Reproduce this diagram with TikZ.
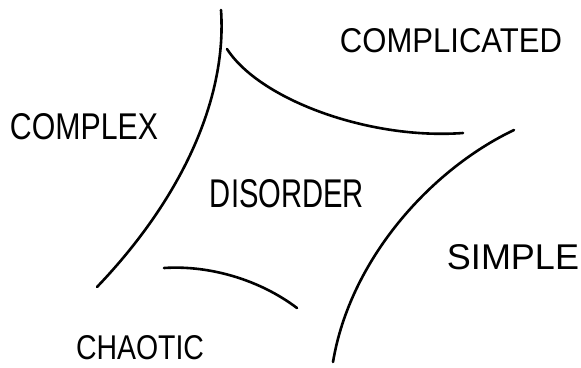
\documentclass[tikz,border=0pt]{standalone}
\usepackage{fontspec}
\setmainfont{Liberation Sans}
\begin{document}
\begin{tikzpicture}[x=1pt,y=-1pt,
  stroke/.style={line width=2.6pt,line cap=round,black},
  label/.style={inner sep=0pt,anchor=center}]
\useasboundingbox (0,0) rectangle (581,367);
% domain boundaries
\draw[stroke] (221,10) .. controls (227,95) and (185,195) .. (97,287);
\draw[stroke] (227,49) .. controls (260,100) and (370,140) .. (463,133);
\draw[stroke] (514,130) .. controls (430,170) and (350,260) .. (333,362);
\draw[stroke] (164,268) .. controls (210,265) and (260,280) .. (297,308);
% domain names
\node[label] (complicated) at (451,41) {\resizebox{222pt}{24pt}{COMPLICATED}};
\node[label] (complex) at (84,127) {\resizebox{148pt}{26pt}{COMPLEX}};
\node[label] (disorder) at (287,194) {\resizebox{154pt}{28pt}{DISORDER}};
\node[label] (simple) at (513,257) {\resizebox{132pt}{25pt}{SIMPLE}};
\node[label] (chaotic) at (140,348) {\resizebox{128pt}{24pt}{CHAOTIC}};
\end{tikzpicture}
\end{document}
